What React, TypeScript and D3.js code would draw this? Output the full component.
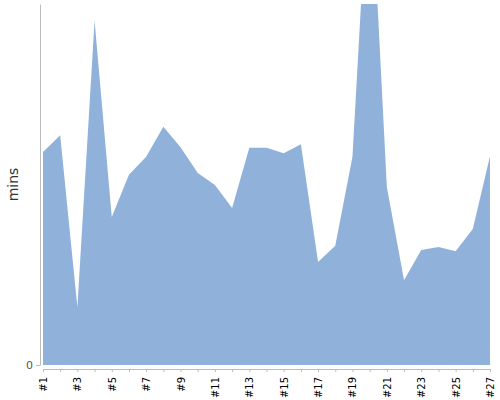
import React, { useEffect, useRef } from "react";
import * as d3 from "d3";

// Session lengths per run, in minutes
const runs = Array.from({ length: 27 }, (_, i) => `#${i + 1}`);
const minutes = [
  35.4, 38.2, 9.6, 57.2, 24.6, 31.6, 34.6, 39.6, 36.2, 31.9, 29.9, 26.1, 36.1, 36.1,
  35.2, 36.7, 17.1, 19.8, 34.6, 85.6, 29.6, 14.1, 19.1, 19.6, 18.9, 22.6, 34.7,
];
const yTicks = [0];
const yMax = 60;

export default function App() {
  const svgRef = useRef<SVGSVGElement>(null);

  useEffect(() => {
    if (!svgRef.current) return;
    const svg = d3.select(svgRef.current);
    svg.selectAll("*").remove();

    const width = 500;
    const height = 400;
    const margin = { top: 4, right: 10, bottom: 35, left: 43 };
    const innerWidth = width - margin.left - margin.right;
    const innerHeight = height - margin.top - margin.bottom;
    const font = "'DejaVu Sans', Verdana, sans-serif";

    const g = svg
      .append("g")
      .attr("transform", `translate(${margin.left},${margin.top})`);

    const xScale = d3.scalePoint<string>().domain(runs).range([0, innerWidth]);
    const yScale = d3.scaleLinear().domain([0, yMax]).range([innerHeight, 0]);

    // clip so the run #20 spike gets cut off at the top
    svg
      .append("defs")
      .append("clipPath")
      .attr("id", "plot-clip")
      .append("rect")
      .attr("x", 0)
      .attr("y", 0)
      .attr("width", innerWidth)
      .attr("height", innerHeight);

    const area = d3
      .area<number>()
      .x((_, i) => xScale(runs[i]) ?? 0)
      .y0(innerHeight)
      .y1((d) => yScale(d));

    g.append("path")
      .datum(minutes)
      .attr("clip-path", "url(#plot-clip)")
      .attr("fill", "#8fb1da")
      .attr("d", area);

    // Y axis
    const yAxis = g
      .append("g")
      .attr("transform", "translate(-3,0)")
      .call(d3.axisLeft(yScale).tickValues(yTicks).tickSize(4).tickSizeOuter(0));
    yAxis.select(".domain").style("stroke", "#bbb");
    yAxis.selectAll(".tick line").style("stroke", "#bbb");
    yAxis
      .selectAll(".tick text")
      .style("font-family", font)
      .style("font-size", "11px")
      .style("fill", "#555");

    // X axis
    const xAxis = g
      .append("g")
      .attr("transform", `translate(0,${innerHeight + 4})`)
      .call(d3.axisBottom(xScale).tickSize(3).tickSizeOuter(0));
    xAxis.select(".domain").style("stroke", "#bbb");
    xAxis.selectAll(".tick line").style("stroke", "#bbb");
    xAxis
      .selectAll<SVGTextElement, string>(".tick text")
      .text((d, i) => (i % 2 === 0 ? d : ""))
      .attr("transform", "rotate(-90)")
      .attr("x", -8)
      .attr("y", 0)
      .attr("dy", "0.35em")
      .attr("text-anchor", "end")
      .style("font-family", font)
      .style("font-size", "10px")
      .style("fill", "#000");

    // Y label
    svg
      .append("text")
      .attr("transform", `translate(18,${margin.top + innerHeight / 2}) rotate(-90)`)
      .attr("text-anchor", "middle")
      .style("font-family", font)
      .style("font-size", "14px")
      .style("fill", "#333")
      .text("mins");
  }, []);

  return (
    <svg
      ref={svgRef}
      width={500}
      height={400}
      style={{ display: "block", position: "fixed", left: 0, top: 0, background: "#fff" }}
    />
  );
}
